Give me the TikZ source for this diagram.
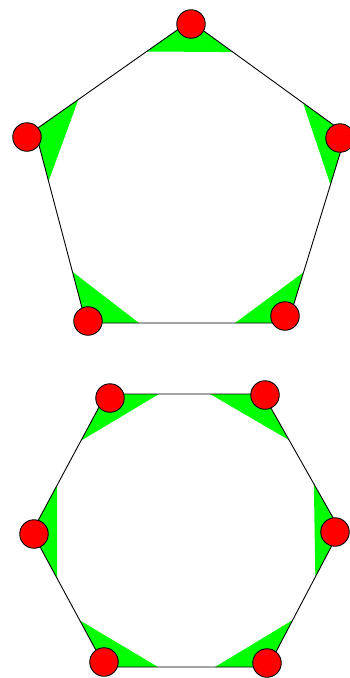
\documentclass[tikz,border=0pt]{standalone}
\usetikzlibrary{calc}
\tikzset{
  vert/.style={circle,draw=black,fill=red,line width=0.9pt,minimum size=28.5pt,inner sep=0pt},
  edgeline/.style={draw=black,line width=0.9pt},
  wedge/.style={fill=green,draw=none}
}
\begin{document}
\begin{tikzpicture}[x=1pt,y=-1pt]
\useasboundingbox (0,0) rectangle (350,678);
\fill[white] (0,0) rectangle (350,678);
% pentagon corners
\coordinate (p1) at (190,21);
\coordinate (p2) at (346,134);
\coordinate (p3) at (288,323);
\coordinate (p4) at (86,323);
\coordinate (p5) at (35,130);
% hexagon corners
\coordinate (h1) at (106,394);
\coordinate (h2) at (263,394);
\coordinate (h3) at (340,530);
\coordinate (h4) at (268,667);
\coordinate (h5) at (105,667);
\coordinate (h6) at (32,532);
% green wedges
\foreach \v/\a/\b in {p1/p2/p5,p2/p3/p1,p3/p4/p2,p4/p5/p3,p5/p1/p4,
                       h1/h2/h6,h2/h3/h1,h3/h4/h2,h4/h5/h3,h5/h6/h4,h6/h1/h5}
  \fill[wedge] (\v) -- ($(\v)!53pt!(\a)$) -- ($(\v)!53pt!(\b)$) -- cycle;
% edges
\draw[edgeline] (p1) -- (p2) -- (p3) -- (p4) -- (p5) -- cycle;
\draw[edgeline] (h1) -- (h2) -- (h3) -- (h4) -- (h5) -- (h6) -- cycle;
% red vertices
\node[vert] (c1) at (191,24) {};
\node[vert] (c2) at (340,138) {};
\node[vert] (c3) at (285,316) {};
\node[vert] (c4) at (88,321) {};
\node[vert] (c5) at (27,137) {};
\node[vert] (d1) at (110,398) {};
\node[vert] (d2) at (265,395) {};
\node[vert] (d3) at (335,532) {};
\node[vert] (d4) at (267,663) {};
\node[vert] (d5) at (104,662) {};
\node[vert] (d6) at (34,534) {};
\end{tikzpicture}
\end{document}
